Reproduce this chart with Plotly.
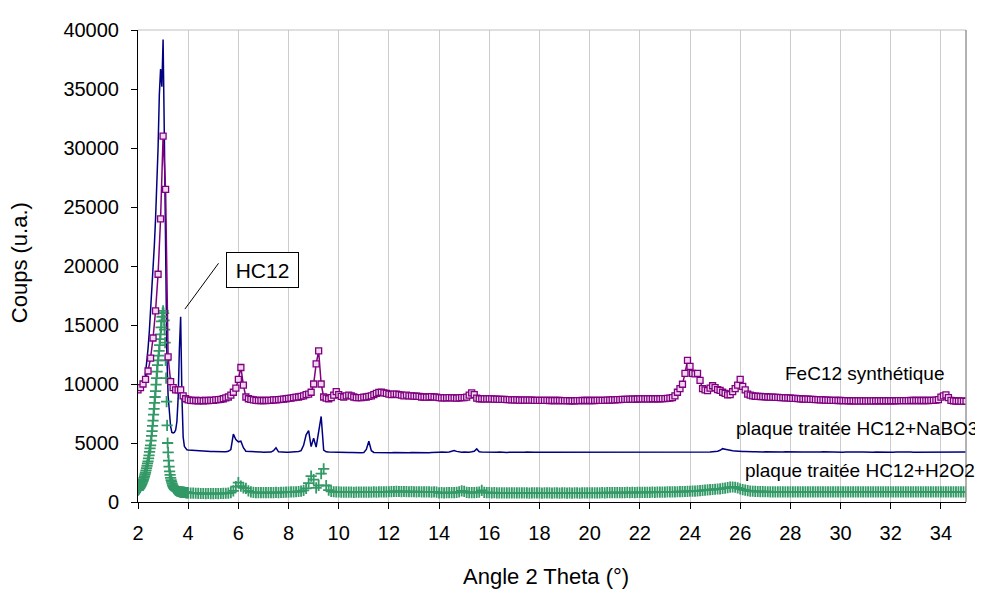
import numpy as np
import plotly.graph_objects as go

# ---------------- data ----------------
# FeC12 synthétique : 2.0 -> 35.0, step 0.1 (one row = 1 degree)
fec_start, fec_step = 2.0, 0.1
fec_counts = [
    9500, 9700, 10000, 10400, 11100, 12200, 13900, 16200, 19300, 24000,
    31000, 26500, 12300, 10200, 9700, 9500, 9500, 9500, 9000, 8750,
    8650, 8620, 8600, 8600, 8580, 8600, 8580, 8600, 8600, 8620,
    8620, 8650, 8680, 8700, 8750, 8820, 8900, 9050, 9300, 9650,
    10400, 11400, 9900, 8900, 8750, 8700, 8650, 8620, 8600, 8600,
    8600, 8600, 8620, 8620, 8650, 8650, 8680, 8700, 8720, 8750,
    8780, 8800, 8850, 8880, 8900, 8950, 9000, 9100, 9150, 9300,
    10000, 11700, 12800, 10000, 8900, 8800, 8750, 8850, 9050, 9350,
    9100, 8950, 8900, 9000, 9050, 9000, 8900, 8850, 8850, 8850,
    8880, 8900, 8950, 9000, 9100, 9200, 9280, 9300, 9250, 9200,
    9150, 9100, 9150, 9150, 9100, 9050, 9000, 9050, 9000, 9000,
    8980, 8960, 8950, 8900, 8900, 8880, 8900, 8930, 8900, 8880,
    8850, 8830, 8820, 8830, 8850, 8830, 8820, 8800, 8830, 8850,
    8850, 8880, 9050, 9250, 9100, 8800, 8750, 8750, 8740, 8740,
    8740, 8740, 8720, 8720, 8700, 8700, 8700, 8680, 8680, 8660,
    8650, 8650, 8640, 8640, 8640, 8630, 8630, 8630, 8620, 8620,
    8620, 8620, 8610, 8610, 8600, 8600, 8600, 8600, 8600, 8590,
    8590, 8590, 8580, 8580, 8580, 8590, 8590, 8600, 8600, 8600,
    8600, 8600, 8600, 8610, 8610, 8620, 8620, 8630, 8640, 8650,
    8660, 8670, 8680, 8690, 8700, 8700, 8710, 8720, 8720, 8730,
    8740, 8740, 8740, 8740, 8740, 8750, 8750, 8750, 8750, 8760,
    8760, 8780, 8800, 8850, 9000, 9300, 9600, 9980, 10900, 12000,
    11500, 10900, 10850, 10900, 10300, 9600, 9500, 9440, 9650, 9850,
    9700, 9520, 9460, 9300, 9200, 9070, 9100, 9350, 9600, 9900,
    10400, 9800, 9500, 9150, 9050, 9000, 8960, 8950, 8940, 8930,
    8920, 8900, 8890, 8880, 8870, 8860, 8850, 8840, 8830, 8820,
    8800, 8790, 8780, 8760, 8740, 8730, 8720, 8710, 8700, 8690,
    8680, 8670, 8660, 8650, 8640, 8630, 8620, 8610, 8610, 8600,
    8600, 8590, 8590, 8580, 8580, 8580, 8570, 8570, 8570, 8570,
    8570, 8570, 8570, 8570, 8580, 8580, 8580, 8580, 8580, 8580,
    8580, 8580, 8580, 8590, 8590, 8590, 8590, 8590, 8600, 8600,
    8600, 8600, 8600, 8600, 8600, 8600, 8610, 8620, 8640, 8680,
    8880, 9000, 9070, 8850, 8620, 8580, 8560, 8560, 8550, 8550,
    8540,
]

# plaque traitée HC12+NaBO3 : fine scan 2.25 -> 3.95 (0.05), then 4.0 -> 35.0 (0.1)
nabo3_fine_start, nabo3_fine_step = 2.25, 0.05
nabo3_fine = [
    9850, 10800, 11800, 13000, 14400, 16000, 17800, 19700, 21700, 24000,
    26800, 30000, 34500, 36700, 35200, 39200, 31000, 20000, 12500, 9000,
    7300, 6400, 5900, 5850, 5900, 6100, 6800, 8800, 13000, 15700,
    9000, 5500, 4700, 4500, 4420,
]
nabo3_start, nabo3_step = 4.0, 0.1
nabo3_counts = [
    4400, 4380, 4350, 4330, 4320, 4300, 4290, 4300, 4280, 4270,
    4280, 4260, 4250, 4270, 4250, 4260, 4300, 4450, 5750, 5300,
    5100, 5150, 4600, 4300, 4280, 4250, 4230, 4240, 4220, 4230,
    4220, 4230, 4210, 4230, 4350, 4590, 4250, 4220, 4210, 4220,
    4220, 4230, 4240, 4250, 4280, 4350, 4800, 5700, 6050, 4700,
    5400, 4650, 5800, 7250, 4400, 4250, 4230, 4220, 4200, 4210,
    4200, 4190, 4210, 4200, 4190, 4200, 4180, 4200, 4190, 4180,
    4200, 4450, 5150, 4350, 4200, 4190, 4180, 4200, 4180, 4170,
    4180, 4170, 4190, 4180, 4170, 4180, 4200, 4170, 4180, 4190,
    4180, 4170, 4180, 4190, 4170, 4180, 4170, 4190, 4180, 4170,
    4220, 4230, 4210, 4220, 4240, 4280, 4370, 4290, 4230, 4220,
    4230, 4210, 4220, 4250, 4300, 4500, 4260, 4230, 4220, 4210,
    4220, 4230, 4210, 4220, 4230, 4210, 4220, 4200, 4220, 4210,
    4210, 4220, 4200, 4210, 4220, 4230, 4210, 4200, 4210, 4220,
    4220, 4200, 4210, 4230, 4210, 4200, 4220, 4210, 4200, 4190,
    4200, 4210, 4190, 4200, 4210, 4190, 4200, 4180, 4190, 4200,
    4190, 4200, 4180, 4190, 4200, 4180, 4190, 4200, 4190, 4180,
    4190, 4200, 4180, 4190, 4200, 4190, 4200, 4210, 4190, 4200,
    4200, 4210, 4190, 4200, 4210, 4200, 4190, 4210, 4200, 4210,
    4210, 4200, 4210, 4220, 4200, 4210, 4220, 4210, 4200, 4220,
    4210, 4220, 4230, 4220, 4210, 4230, 4220, 4240, 4230, 4250,
    4270, 4300, 4380, 4520, 4480, 4420, 4400, 4350, 4330, 4300,
    4300, 4280, 4290, 4260, 4270, 4250, 4260, 4240, 4250, 4240,
    4250, 4240, 4250, 4260, 4240, 4250, 4240, 4230, 4250, 4240,
    4240, 4250, 4230, 4240, 4250, 4230, 4240, 4230, 4240, 4250,
    4230, 4240, 4230, 4250, 4240, 4230, 4220, 4240, 4230, 4240,
    4230, 4220, 4240, 4230, 4220, 4240, 4230, 4220, 4230, 4240,
    4220, 4230, 4240, 4220, 4230, 4220, 4240, 4230, 4220, 4230,
    4230, 4220, 4230, 4240, 4220, 4230, 4220, 4230, 4240, 4220,
    4220, 4230, 4220, 4240, 4230, 4220, 4230, 4220, 4230, 4240,
    4230, 4220, 4230, 4240, 4220, 4230, 4240, 4220, 4230, 4220,
    4230,
]

# plaque traitée HC12+H2O2 : fine scan 2.00 -> 3.98 (0.02), then 4.0 -> 35.0 (0.1)
h2o2_fine_start, h2o2_fine_step = 2.0, 0.02
h2o2_fine = [
    1000, 1050, 1110, 1170, 1240, 1320, 1400, 1490, 1590, 1700,
    1800, 1920, 2050, 2200, 2350, 2500, 2680, 2870, 3070, 3270,
    3450, 3700, 3950, 4250, 4550, 4800, 5200, 5600, 6000, 6450,
    6900, 7400, 7900, 8400, 8900, 9400, 9950, 10500, 11050, 11600,
    12000, 12400, 12800, 13300, 13800, 14200, 14800, 15300, 15700, 16000,
    16200, 16000, 15400, 14600, 13500, 12000, 10500, 8500, 6500, 5000,
    4200, 3500, 3000, 2600, 2300, 2050, 1850, 1700, 1550, 1420,
    1300, 1220, 1150, 1100, 1050, 1020, 990, 960, 940, 920,
    900, 890, 880, 870, 860, 850, 845, 840, 835, 830,
    825, 820, 815, 810, 805, 800, 795, 790, 790, 785,
]
h2o2_start, h2o2_step = 4.0, 0.1
h2o2_counts = [
    780, 760, 750, 740, 730, 720, 720, 710, 720, 710,
    710, 720, 710, 720, 730, 740, 760, 800, 950, 1300,
    1650, 1350, 1200, 1150, 950, 850, 820, 800, 800, 790,
    790, 800, 790, 800, 800, 810, 800, 810, 820, 830,
    840, 850, 860, 870, 890, 920, 980, 1150, 1600, 2200,
    1900, 1200, 1400, 2400, 2800, 1400, 1000, 900, 870, 860,
    850, 840, 840, 830, 840, 830, 820, 830, 840, 830,
    830, 840, 830, 840, 850, 840, 850, 860, 850, 860,
    870, 880, 890, 900, 890, 880, 890, 880, 870, 880,
    870, 860, 870, 860, 850, 860, 850, 840, 850, 840,
    780, 790, 780, 790, 800, 790, 800, 810, 850, 950,
    900, 820, 800, 790, 800, 810, 830, 980, 820, 800,
    790, 780, 790, 780, 770, 780, 770, 780, 770, 770,
    770, 780, 770, 770, 780, 770, 760, 770, 780, 770,
    770, 760, 770, 780, 770, 760, 770, 770, 760, 770,
    770, 760, 770, 760, 770, 770, 760, 770, 780, 770,
    770, 780, 770, 780, 780, 790, 780, 790, 790, 800,
    790, 800, 800, 790, 800, 810, 800, 810, 800, 810,
    810, 820, 810, 820, 820, 830, 820, 830, 840, 830,
    840, 850, 850, 860, 860, 870, 880, 880, 890, 900,
    910, 920, 930, 950, 970, 990, 1010, 1030, 1050, 1060,
    1080, 1100, 1120, 1150, 1180, 1220, 1260, 1270, 1250, 1200,
    1120, 1050, 1000, 960, 930, 910, 900, 890, 880, 880,
    870, 870, 860, 860, 860, 850, 860, 850, 850, 850,
    860, 850, 860, 850, 860, 850, 850, 860, 850, 850,
    850, 860, 850, 850, 860, 850, 860, 850, 850, 860,
    850, 860, 850, 860, 850, 850, 860, 850, 860, 850,
    850, 860, 850, 850, 860, 850, 860, 850, 850, 860,
    860, 850, 860, 850, 850, 860, 850, 860, 850, 850,
    850, 860, 850, 860, 850, 850, 860, 850, 860, 850,
    850, 860, 850, 850, 860, 850, 860, 850, 850, 860,
    850,
]

x_tick_values = list(range(2, 35, 2))
y_tick_values = list(range(0, 40001, 5000))
y_tick_text = [str(v) for v in y_tick_values]

labels = {
    "fec": "FeC12 synthétique",
    "nabo3": "plaque traitée HC12+NaBO3",
    "h2o2": "plaque traitée HC12+H2O2",
    "box": "HC12",
    "xtitle": "Angle 2 Theta (°)",
    "ytitle": "Coups (u.a.)",
}


def grid(start, step, n):
    return np.round(start + step * np.arange(n), 3)


fec_x = grid(fec_start, fec_step, len(fec_counts))
nabo3_x = np.concatenate([grid(nabo3_fine_start, nabo3_fine_step, len(nabo3_fine)),
                          grid(nabo3_start, nabo3_step, len(nabo3_counts))])
nabo3_y = nabo3_fine + nabo3_counts
h2o2_x = np.concatenate([grid(h2o2_fine_start, h2o2_fine_step, len(h2o2_fine)),
                         grid(h2o2_start, h2o2_step, len(h2o2_counts))])
h2o2_y = h2o2_fine + h2o2_counts

# ---------------- figure ----------------
FONT = "Arial, 'Liberation Sans', sans-serif"
PURPLE = "#800080"
NAVY = "#000080"
GREEN = "#339966"

fig = go.Figure()
fig.add_trace(go.Scatter(
    x=nabo3_x, y=nabo3_y, mode="lines", name=labels["nabo3"],
    line=dict(color=NAVY, width=1.5)))
fig.add_trace(go.Scatter(
    x=h2o2_x, y=h2o2_y, mode="markers", name=labels["h2o2"],
    marker=dict(symbol="cross-thin", size=8, color=GREEN,
                line=dict(color=GREEN, width=1.8))))
fig.add_trace(go.Scatter(
    x=fec_x, y=fec_counts, mode="lines+markers", name=labels["fec"],
    line=dict(color=PURPLE, width=1.5),
    marker=dict(symbol="square", size=6, color="#f0d8f0",
                line=dict(color=PURPLE, width=1.3))))

axis_font = dict(family=FONT, size=20, color="black")

# the page body adds an 8px offset; the figure size and margins compensate for it
fig.update_layout(
    width=975, height=587,
    margin=dict(l=130, r=17, t=11, b=93),
    paper_bgcolor="white", plot_bgcolor="white",
    showlegend=False,
    font=dict(family=FONT, color="black"),
    xaxis=dict(range=[2, 35], tickvals=x_tick_values, ticks="outside",
               ticklen=6, tickcolor="black", tickwidth=1,
               showline=True, linecolor="black", linewidth=1,
               showgrid=True, gridcolor="#cccccc", gridwidth=1,
               zeroline=False, tickfont=axis_font, ticklabelstandoff=7),
    yaxis=dict(range=[0, 40000], tickvals=y_tick_values, ticktext=y_tick_text,
               ticks="outside",
               ticklen=6, tickcolor="black", tickwidth=1,
               showline=True, linecolor="black", linewidth=1,
               showgrid=False, zeroline=False, tickfont=axis_font,
               ticklabelstandoff=8),
)

# plot-area border (top light gray, right darker gray)
fig.add_shape(type="line", xref="paper", yref="paper", x0=0, x1=1, y0=1, y1=1,
              line=dict(color="#c0c0c0", width=1))
fig.add_shape(type="line", xref="paper", yref="paper", x0=1, x1=1, y0=0, y1=1,
              line=dict(color="#999999", width=1.5))

# pointer line of the HC12 label
fig.add_shape(type="line", xref="x", yref="y", x0=5.21, y0=20230, x1=3.87, y1=16350,
              line=dict(color="black", width=1))

fig.add_annotation(x=6.97, y=19670, xref="x", yref="y", text=labels["box"],
                   showarrow=False, font=dict(family=FONT, size=21, color="black"),
                   bordercolor="black", borderwidth=1, bgcolor="white",
                   width=71, height=34, borderpad=0)

series_label_font = dict(family=FONT, size=19, color="black")
fig.add_annotation(x=30.97, y=10900, xref="x", yref="y", text=labels["fec"],
                   showarrow=False, font=series_label_font)
fig.add_annotation(x=30.67, y=6250, xref="x", yref="y", text=labels["nabo3"],
                   showarrow=False, font=series_label_font)
fig.add_annotation(x=30.79, y=2660, xref="x", yref="y", text=labels["h2o2"],
                   showarrow=False, font=series_label_font)

# axis titles
fig.add_annotation(x=-0.1437, y=0.506, xref="paper", yref="paper",
                   text=labels["ytitle"], textangle=-90, showarrow=False,
                   font=dict(family=FONT, size=22, color="black"),
                   xanchor="center", yanchor="middle")
fig.add_annotation(x=0.4928, y=-0.157, xref="paper", yref="paper",
                   text=labels["xtitle"], showarrow=False,
                   font=dict(family=FONT, size=22, color="black"),
                   xanchor="center", yanchor="middle")

fig.write_html("out.html")
